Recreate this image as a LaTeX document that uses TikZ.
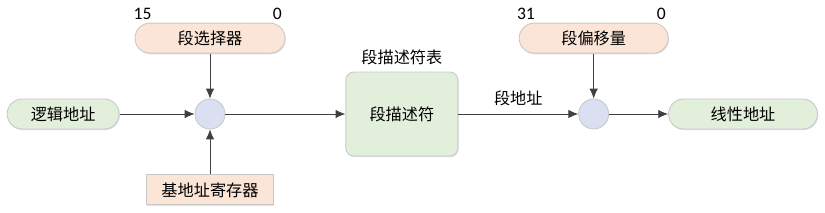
\documentclass[tikz,border=0pt]{standalone}
\usepackage{fontspec}
\setmainfont{Carlito}
\newfontfamily\cjk{Noto Sans CJK SC}
\usetikzlibrary{arrows.meta,positioning,shadows}

\definecolor{boxgreen}{RGB}{226,239,218}
\definecolor{boxpeach}{RGB}{251,229,214}
\definecolor{dotblue}{RGB}{218,224,241}
\definecolor{edgegray}{RGB}{200,200,200}

\tikzset{
  box/.style={draw=edgegray,line width=0.6pt,minimum height=0.75cm,font=\cjk\fontsize{11.5}{13}\selectfont,
    drop shadow={shadow xshift=0.02cm,shadow yshift=-0.03cm,fill=blue!40!gray,opacity=0.18}},
  pill/.style={box,rounded corners=0.375cm},
  joint/.style={circle,draw=edgegray,line width=0.6pt,fill=dotblue,minimum size=0.75cm,inner sep=0pt},
  flow/.style={-{Latex[length=7pt,width=6pt]},draw=black!75,line width=0.6pt},
  bit/.style={font=\fontsize{12.5}{14}\selectfont},
  tag/.style={font=\cjk\fontsize{11.5}{13}\selectfont}
}

\begin{document}
\begin{tikzpicture}
\useasboundingbox (0,2.85) rectangle (20.625,-2.45);
\node[joint] (c1) at (5.25,0) {};
\node[pill,fill=boxgreen,minimum width=2.8cm,left=1.875cm of c1] (logic) {逻辑地址};
\node[pill,fill=boxpeach,minimum width=3.75cm,above=1.125cm of c1] (sel) {段选择器};
\node[box,fill=boxpeach,minimum width=3.175cm,below=1.125cm of c1] (base) {基地址寄存器};
\node[box,fill=boxgreen,rounded corners=0.2cm,minimum width=2.8cm,minimum height=2.1cm,right=3cm of c1] (desc) {段描述符};
\node[joint,right=3cm of desc] (c2) {};
\node[pill,fill=boxpeach,minimum width=3.725cm,above=1.125cm of c2] (off) {段偏移量};
\node[pill,fill=boxgreen,minimum width=3.725cm,right=1.475cm of c2] (lin) {线性地址};
% bit numbers and captions
\node[bit] (s15) at ([xshift=0.2cm,yshift=0.22cm]sel.north west) {15};
\node[bit] (s0) at ([xshift=-0.2cm,yshift=0.22cm]sel.north east) {0};
\node[bit] (o31) at ([xshift=0.18cm,yshift=0.22cm]off.north west) {31};
\node[bit] (o0) at ([xshift=-0.18cm,yshift=0.22cm]off.north east) {0};
\node[tag,above=1pt of desc] (tbl) {段描述符表};
\draw[flow] (logic) -- (c1);
\draw[flow] (sel) -- (c1);
\draw[flow] (base) -- (c1);
\draw[flow] (c1) -- (desc);
\draw[flow] (desc) -- node[tag,above=2pt] (segaddr) {段地址} (c2);
\draw[flow] (off) -- (c2);
\draw[flow] (c2) -- (lin);
\end{tikzpicture}
\end{document}
